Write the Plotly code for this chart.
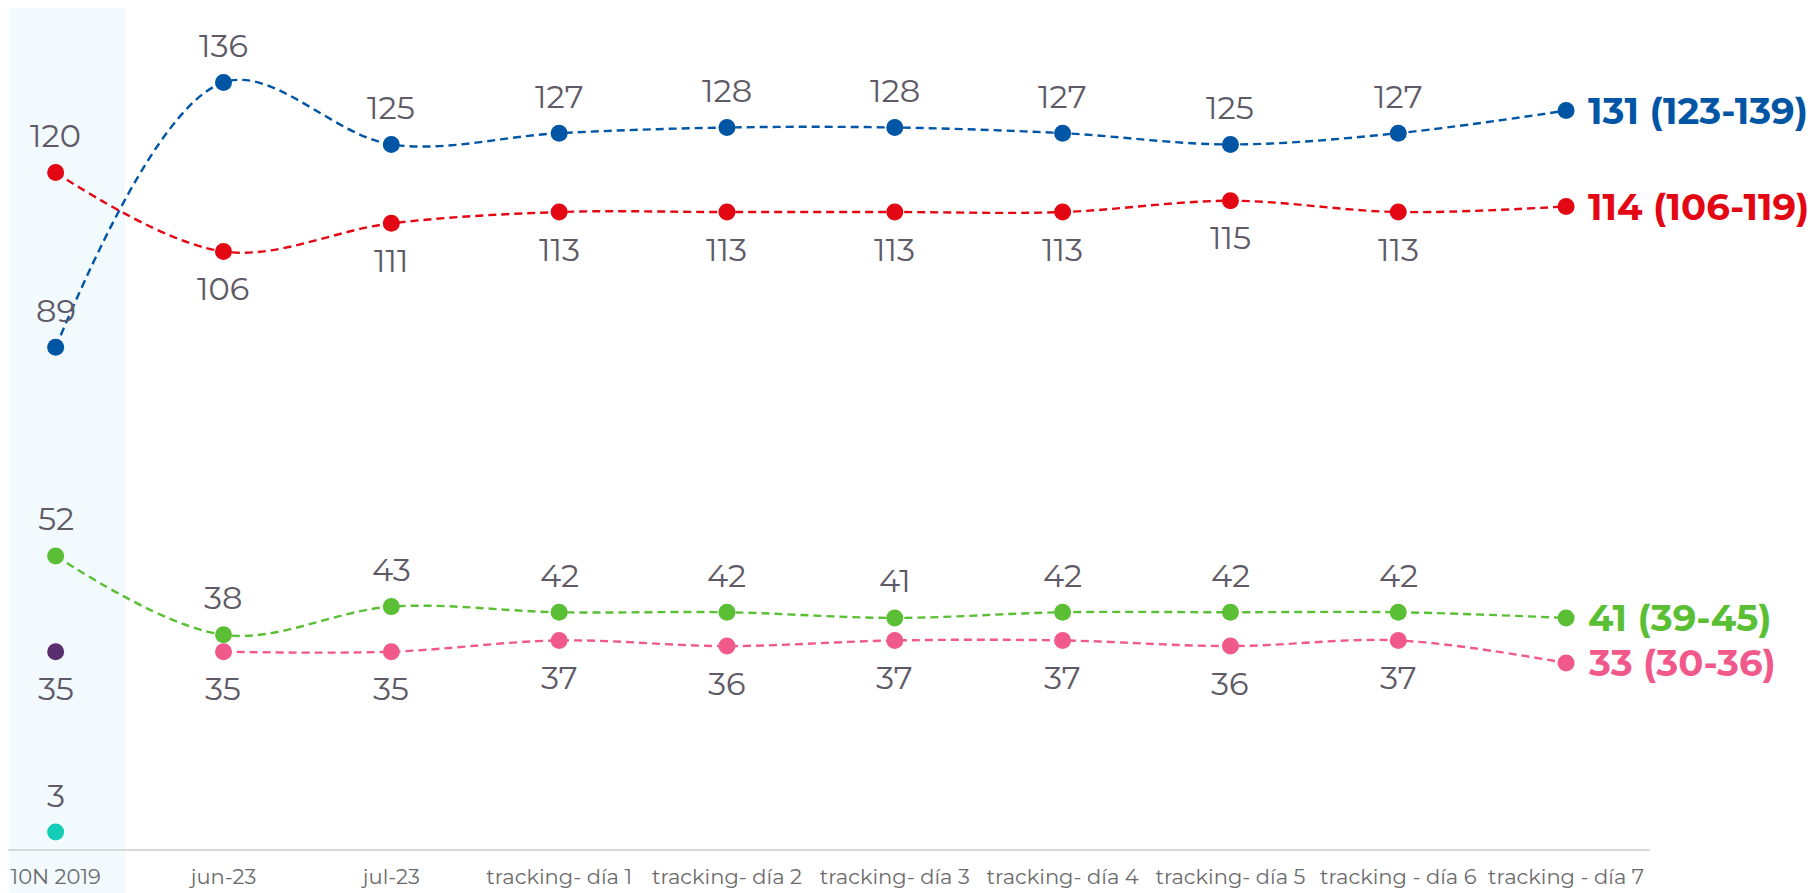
import plotly.graph_objects as go

# Categorías del eje X
categorias = ['10N 2019', 'jun-23', 'jul-23', 'tracking- día 1', 'tracking- día 2',
              'tracking- día 3', 'tracking- día 4', 'tracking- día 5',
              'tracking - día 6', 'tracking - día 7']

# Series (None = sin dato)
azul = [89, 136, 125, 127, 128, 128, 127, 125, 127, 131]
rojo = [120, 106, 111, 113, 113, 113, 113, 115, 113, 114]
verde = [52, 38, 43, 42, 42, 41, 42, 42, 42, 41]
rosa = [None, 35, 35, 37, 36, 37, 37, 36, 37, 33]
morado = [35] + [None] * 9
turquesa = [3] + [None] * 9

# Intervalos del último punto
azul_rango = (123, 139)
rojo_rango = (106, 119)
verde_rango = (39, 45)
rosa_rango = (30, 36)

# Posición de la etiqueta: 1 arriba, -1 abajo
pos_azul = [1] * 10
pos_rojo = [1] + [-1] * 9
pos_verde = [1] * 10
pos_rosa = [-1] * 10
pos_morado = [-1] * 10
pos_turquesa = [1] * 10

series = [
    (azul, '#0055A4', pos_azul, azul_rango, True),
    (rojo, '#E30613', pos_rojo, rojo_rango, True),
    (verde, '#5BBF35', pos_verde, verde_rango, True),
    (rosa, '#F0598A', pos_rosa, rosa_rango, True),
    (morado, '#5A2D6E', pos_morado, None, False),
    (turquesa, '#14CDB8', pos_turquesa, None, False),
]

FUENTE = 'Montserrat, Open Sans, sans-serif'
xs = list(range(len(categorias)))

fig = go.Figure()
anotaciones = []

for valores, color, posiciones, rango, con_linea in series:
    fig.add_trace(go.Scatter(
        x=xs, y=valores, mode='lines+markers' if con_linea else 'markers',
        line=dict(color=color, width=2.4, dash='8px,5px', shape='spline', smoothing=1),
        marker=dict(color=color, size=17),
        connectgaps=False, showlegend=False, cliponaxis=False,
        hoverinfo='skip'))
    for i, v in enumerate(valores):
        if v is None:
            continue
        if rango is not None and i == len(valores) - 1:
            # Etiqueta final en negrita a la derecha
            anotaciones.append(dict(
                x=i, y=v, xref='x', yref='y', showarrow=False,
                text=f'<b>{v} ({rango[0]}-{rango[1]})</b>',
                xanchor='left', xshift=20,
                font=dict(family=FUENTE, size=37, color=color)))
        else:
            anotaciones.append(dict(
                x=i, y=v, xref='x', yref='y', showarrow=False,
                text=str(v), yshift=37 * posiciones[i],
                font=dict(family=FUENTE, size=32, color='#5F5B66')))

# Banda sombreada de la primera categoría
fig.add_shape(type='rect', xref='x', yref='paper', x0=-0.277, x1=0.413,
              y0=-0.06, y1=1.02, fillcolor='#F3FAFE', line=dict(width=0), layer='below')

fig.update_layout(
    width=1811, height=885,
    margin=dict(l=0, r=169, t=0, b=44),
    plot_bgcolor='white', paper_bgcolor='white',
    annotations=anotaciones,
    xaxis=dict(range=[-0.284, 9.5], tickmode='array', tickvals=xs, ticktext=categorias,
               showgrid=False, zeroline=False, showline=True, linecolor='#D9D9D9',
               linewidth=2, ticks='outside', ticklen=8, tickcolor='rgba(0,0,0,0)',
               tickfont=dict(family=FUENTE, size=21, color='#6B6B6B')),
    yaxis=dict(range=[0, 149.2], visible=False, showgrid=False, zeroline=False),
)

fig.write_html('out.html')
